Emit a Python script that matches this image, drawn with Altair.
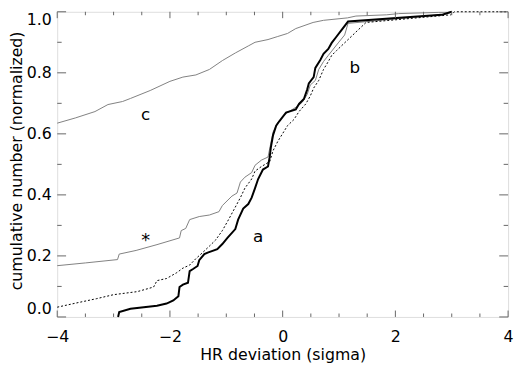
import altair as alt
import pandas as pd

# ---- data ----
a_x = [-2.92, -2.90, -2.70, -2.23, -2.06, -1.94, -1.85, -1.83, -1.77, -1.68, -1.65, -1.59, -1.51, -1.48,
       -1.39, -1.33, -1.16, -1.07, -0.98, -0.84, -0.79, -0.70, -0.61, -0.55, -0.49, -0.435, -0.35, -0.26,
       -0.23, -0.21, -0.17, -0.115, -0.057, 0.06, 0.233, 0.29, 0.377, 0.435, 0.464, 0.55, 0.58, 0.668,
       0.725, 0.81, 0.87, 0.957, 1.04, 1.16, 2.82, 3.0]
a_y = [0.0, 0.016, 0.027, 0.037, 0.044, 0.054, 0.068, 0.098, 0.106, 0.112, 0.15, 0.157, 0.167, 0.186,
       0.206, 0.211, 0.222, 0.239, 0.259, 0.288, 0.319, 0.355, 0.37, 0.391, 0.422, 0.452, 0.483, 0.493,
       0.524, 0.555, 0.596, 0.627, 0.642, 0.670, 0.680, 0.698, 0.714, 0.745, 0.765, 0.786, 0.816, 0.842,
       0.862, 0.878, 0.898, 0.919, 0.939, 0.968, 0.99, 1.0]

b_x = [-4.0, -3.68, -3.3, -3.0, -2.58, -2.29, -2.23, -2.06, -1.88, -1.77, -1.65, -1.54, -1.42, -1.30,
       -1.19, -1.07, -0.96, -0.84, -0.75, -0.67, -0.55, -0.49, -0.376, -0.23, -0.17, -0.087, 0.0, 0.087,
       0.2, 0.29, 0.41, 0.49, 0.55, 0.64, 0.725, 0.81, 0.87, 0.957, 1.07, 1.19, 1.33, 1.48, 2.98, 3.05, 4.0]
b_y = [0.032, 0.045, 0.06, 0.073, 0.083, 0.098, 0.119, 0.126, 0.145, 0.16, 0.17, 0.191, 0.211, 0.232,
       0.252, 0.283, 0.319, 0.36, 0.391, 0.422, 0.452, 0.478, 0.493, 0.509, 0.545, 0.575, 0.601, 0.627,
       0.647, 0.673, 0.698, 0.724, 0.75, 0.775, 0.811, 0.837, 0.857, 0.873, 0.893, 0.914, 0.939, 0.965,
       0.99, 1.0, 1.0]

c_x = [-4.0, -3.68, -3.33, -3.1, -2.84, -2.7, -2.35, -2.0, -1.77, -1.54, -1.30, -1.07, -0.84, -0.61,
       -0.49, -0.26, -0.087, 0.087, 0.233, 0.54, 0.725, 1.15, 1.3, 1.84, 2.06, 2.77, 2.93, 3.0]
c_y = [0.635, 0.652, 0.673, 0.696, 0.706, 0.716, 0.742, 0.772, 0.786, 0.793, 0.811, 0.84, 0.865, 0.888,
       0.900, 0.909, 0.919, 0.929, 0.945, 0.965, 0.972, 0.98, 0.986, 0.99, 0.994, 0.998, 0.998, 1.0]

s_x = [-4.0, -3.5, -2.93, -2.90, -2.60, -2.23, -1.83, -1.80, -1.72, -1.65, -1.48, -1.30, -1.13, -1.07,
       -0.90, -0.81, -0.75, -0.67, -0.55, -0.49, -0.376, -0.26, -0.17, -0.087, 0.087, 0.26, 0.35, 0.435,
       0.49, 0.58, 0.64, 0.725, 0.81, 0.90, 0.986, 1.1, 1.16, 2.9, 3.0]
s_y = [0.168, 0.177, 0.188, 0.206, 0.218, 0.237, 0.259, 0.283, 0.29, 0.319, 0.329, 0.334, 0.345, 0.365,
       0.396, 0.406, 0.442, 0.458, 0.473, 0.497, 0.514, 0.524, 0.606, 0.637, 0.67, 0.69, 0.704, 0.729,
       0.76, 0.775, 0.811, 0.837, 0.857, 0.878, 0.898, 0.924, 0.962, 0.992, 1.0]

lab_text = ["c", "b", "*", "a"]
lab_x = [-2.43, 1.28, -2.43, -0.435]
lab_y = [0.662, 0.816, 0.268, 0.262]

x_major = [-4, -2, 0, 2, 4]
x_minor = [-3.5, -3, -2.5, -1.5, -1, -0.5, 0.5, 1, 1.5, 2.5, 3, 3.5]
y_major = [0.0, 0.2, 0.4, 0.6, 0.8, 1.0]
y_minor = [0.1, 0.3, 0.5, 0.7, 0.9]

W, H = 458, 310
FONT = "DejaVu Sans"
FRAME = "#666666"

def curve(xs, ys):
    return pd.DataFrame({"x": xs, "y": ys, "i": list(range(len(xs)))})

xscale = alt.Scale(domain=[-4, 4], nice=False, zero=False)
yscale = alt.Scale(domain=[0, 1], nice=False, zero=False)
xaxis = alt.Axis(values=x_major, format="d", ticks=False, domain=False, grid=False,
                 labelFlush=False,
                 labelFont=FONT, labelFontSize=16, labelColor="black", labelPadding=12,
                 title="HR deviation (sigma)", titleFont=FONT, titleFontSize=16,
                 titleFontWeight="normal", titleColor="black",
                 titleX=W / 2, titleY=43, titleBaseline="alphabetic")
yaxis = alt.Axis(values=y_major, format=".1f", ticks=False, domain=False, grid=False,
                 labelFlush=True,
                 labelFont=FONT, labelFontSize=16, labelColor="black", labelPadding=6,
                 title="cumulative number (normalized)", titleFont=FONT, titleFontSize=16,
                 titleFontWeight="normal", titleColor="black",
                 titleX=-41, titleY=H / 2 - 4, titleBaseline="middle", titleAngle=-90)

X = alt.X("x:Q", scale=xscale, axis=xaxis)
Y = alt.Y("y:Q", scale=yscale, axis=yaxis)

def line(xs, ys, **style):
    return alt.Chart(curve(xs, ys)).mark_line(**style).encode(x=X, y=Y, order="i:Q")

layers = [
    line(c_x, c_y, color="#808080", strokeWidth=1),
    line(s_x, s_y, color="#808080", strokeWidth=1),
    line(b_x, b_y, color="black", strokeWidth=1, strokeDash=[2, 2]),
    line(a_x, a_y, color="black", strokeWidth=2),
]

# inward ticks on all four sides
def yticks(vals, length):
    df = pd.DataFrame({"y": vals})
    left = alt.Chart(df).mark_rule(color=FRAME, strokeWidth=1).encode(
        y=Y, x=alt.value(0), x2=alt.value(length))
    right = alt.Chart(df).mark_rule(color=FRAME, strokeWidth=1).encode(
        y=Y, x=alt.value(W), x2=alt.value(W - length))
    return [left, right]

def xticks(vals, length):
    df = pd.DataFrame({"x": vals})
    bottom = alt.Chart(df).mark_rule(color=FRAME, strokeWidth=1).encode(
        x=X, y=alt.value(H), y2=alt.value(H - length))
    top = alt.Chart(df).mark_rule(color=FRAME, strokeWidth=1).encode(
        x=X, y=alt.value(0), y2=alt.value(length))
    return [bottom, top]

layers += yticks(y_major, 9) + yticks(y_minor, 4.5) + xticks(x_major, 6.5) + xticks(x_minor, 3.5)

labels = pd.DataFrame({"x": lab_x, "y": lab_y, "t": lab_text})
layers.append(alt.Chart(labels).transform_filter(alt.datum.t != "*").mark_text(
    font=FONT, fontSize=17, color="black", align="center", baseline="middle").encode(
    x=X, y=Y, text="t:N"))
layers.append(alt.Chart(labels).transform_filter(alt.datum.t == "*").mark_text(
    font=FONT, fontSize=18, color="black", align="center", baseline="middle", dy=6).encode(
    x=X, y=Y, text="t:N"))

chart = alt.layer(*layers).properties(
    width=W, height=H,
    padding={"left": 50, "top": 1, "right": 6, "bottom": 48},
    autosize=alt.AutoSizeParams(type="none"),
).configure_view(stroke=FRAME, strokeWidth=2).configure(background="white")

chart.save("out.html", embed_options={"renderer": "svg", "actions": False})
